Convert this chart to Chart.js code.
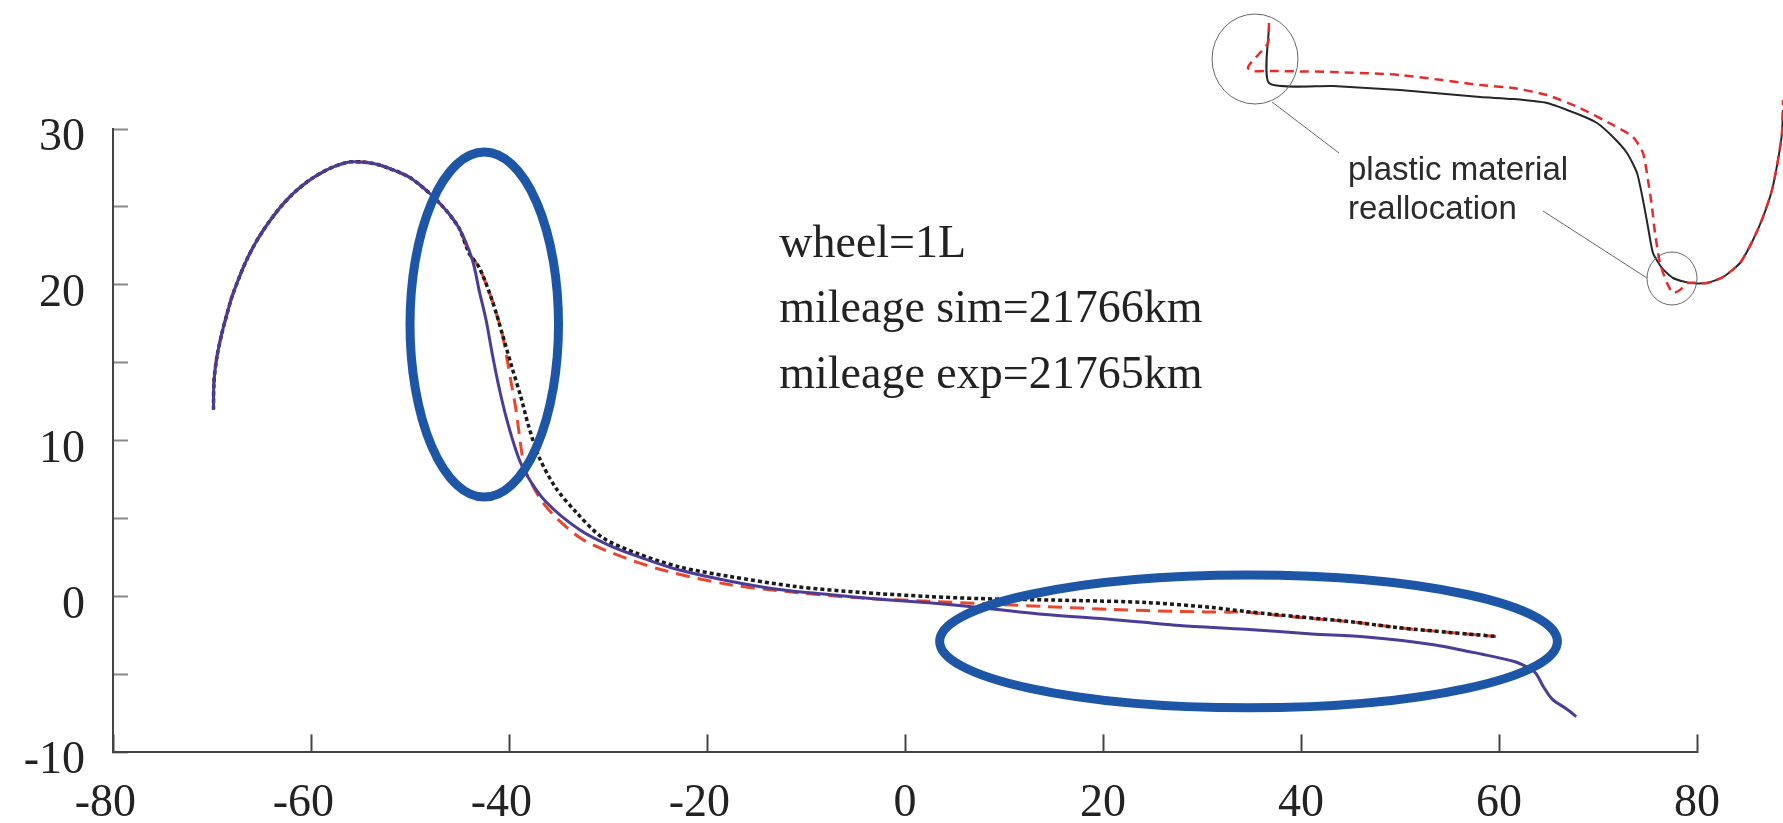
<!DOCTYPE html>
<html>
<head>
<meta charset="utf-8">
<title>wheel profile</title>
<script src="https://cdn.jsdelivr.net/npm/chart.js@4.4.1/dist/chart.umd.min.js"></script>
<style>
  html, body { margin: 0; padding: 0; background: #fff; overflow: hidden; }
  #wrap { position: relative; width: 1783px; height: 823px; }
  #main { position: absolute; left: 0; top: 0; }
  #inset { position: absolute; left: 1200px; top: 0; }
</style>
</head>
<body>
<div id="wrap">
  <canvas id="main" width="1783" height="823"></canvas>
  <canvas id="inset" width="583" height="330"></canvas>
</div>
<script>
// solid purple profile
const solidX = [-69.85,-69.8,-69.5,-69.0,-68.5,-68.0,-67.3,-66.5,-65.6,-64.5,-63.2,-61.9,-60.2,-58.5,-57.2,-55.9,-53.8,-51.8,-49.8,-47.1,-45.1,-43.7,-43.0,-42.3,-41.7,-41.0,-40.2,-39.2,-38.3,-36.3,-32.9,-29.6,-26.2,-22.8,-17.8,-12.7,-7.7,-2.6,2.4,7.5,14.2,20.9,27.7,34.4,41.1,46.6,53.2,58.3,61.7,63.3,63.8,64.5,65.4,66.8,67.8];
const solidY = [12.0,13.8,15.4,16.9,18.1,19.2,20.4,21.6,22.7,23.8,24.9,25.8,26.7,27.35,27.7,27.9,27.8,27.4,26.8,25.3,23.7,21.6,19.6,17.7,15.6,13.4,11.3,9.2,7.9,6.1,4.3,3.2,2.4,1.7,1.0,0.45,0.13,-0.17,-0.4,-0.7,-1.15,-1.47,-1.86,-2.1,-2.4,-2.6,-3.07,-3.7,-4.2,-4.7,-5.0,-5.8,-6.6,-7.2,-7.7];

// black dotted profile
const dotX = [-69.85,-69.8,-69.5,-69.0,-68.5,-68.0,-67.3,-66.5,-65.6,-64.5,-63.2,-61.9,-60.2,-58.5,-57.2,-55.9,-53.8,-51.8,-49.8,-47.1,-45.1,-44.0,-43.0,-41.7,-40.7,-39.7,-38.8,-38.0,-37.0,-35.3,-33.2,-30.6,-27.2,-22.8,-17.8,-11.0,-4.3,2.4,7.5,17.6,24.3,31.0,34.4,39.8,44.8,49.9,55.0,59.7];
const dotY = [12.0,13.8,15.4,16.9,18.1,19.2,20.4,21.6,22.7,23.8,24.9,25.8,26.7,27.35,27.7,27.9,27.8,27.4,26.8,25.3,23.7,22.0,21.1,19.0,16.9,14.7,12.8,10.9,9.0,7.0,5.4,3.8,2.8,1.9,1.3,0.64,0.26,0.0,-0.13,-0.26,-0.38,-0.7,-0.96,-1.3,-1.6,-2.0,-2.3,-2.56];

// red dashed profile
const dashX = [-69.85,-69.8,-69.5,-69.0,-68.5,-68.0,-67.3,-66.5,-65.6,-64.5,-63.2,-61.9,-60.2,-58.5,-57.2,-55.9,-53.8,-51.8,-49.8,-47.1,-45.1,-44.0,-43.0,-41.7,-40.7,-40.3,-39.8,-39.3,-38.7,-38.3,-36.3,-32.9,-29.6,-24.5,-17.8,-11.0,-4.3,2.4,7.5,14.2,20.9,27.7,32.7,34.4,39.8,44.8,49.9,55.0,59.7];
const dashY = [12.0,13.8,15.4,16.9,18.1,19.2,20.4,21.6,22.7,23.8,24.9,25.8,26.7,27.35,27.7,27.9,27.8,27.4,26.8,25.3,23.7,22.0,21.1,19.0,16.9,15.6,13.8,12.0,9.2,8.0,5.8,3.8,2.8,1.7,0.77,0.26,-0.1,-0.3,-0.45,-0.64,-0.83,-0.96,-1.0,-1.0,-1.34,-1.6,-2.0,-2.3,-2.56];

// inset sketch (x right, y down)
const insetSolidX = [6.9,6.9,13.3,20.0,28.0,31.3,34.7,38.0,39.7,41.3,42.7,43.7,44.3,44.8,45.3,46.2,47.3,49.0,50.7,52.3,54.0,55.3,56.3,57.2,57.8,58.2,58.3];
const insetSolidY = [2.5,8.3,8.6,9.0,9.7,9.9,10.3,11.5,12.3,13.7,15.3,17.3,20.0,22.7,25.3,26.8,27.8,28.3,28.3,27.7,26.3,24.0,21.7,19.0,16.0,13.3,11.0];
const insetDashX = [6.9,6.8,5.8,5.0,4.8,5.3,7.0,13.3,20.0,28.0,31.3,34.7,38.0,41.3,43.3,44.3,44.8,45.2,45.5,46.0,46.7,47.3,48.0,48.8,50.7,52.3,54.0,55.3,56.3,57.2,57.8,58.2,58.3];
const insetDashY = [2.3,4.3,5.5,6.4,6.8,7.1,7.1,7.2,7.5,8.5,8.8,9.5,10.8,12.5,13.7,15.3,18.0,20.7,23.3,26.3,28.3,29.3,29.0,28.3,28.3,27.7,26.3,24.0,21.7,19.0,16.0,13.3,10.0];

const noteLines = ['wheel=1L', 'mileage sim=21766km', 'mileage exp=21765km'];
const insetLabel = ['plastic material', 'reallocation'];

const toPoints = (xs, ys) => xs.map((x, i) => ({ x: x, y: ys[i] }));

const serif = "'Liberation Serif', 'Times New Roman', serif";
const sans = "'Liberation Sans', Arial, sans-serif";

// highlighted zones and note position, in data units
const zones = [
    { x: -42.5, y: 17.45, rx: 7.5, ry: 11.07 },
    { x: 34.7, y: -2.88, rx: 31.2, ry: 4.26 }
];
const note = { x: -12.7, y: 21.8, step: 4.2 };

function ellipseAt(ctx, xs, ys, e) {
    const cx = xs.getPixelForValue(e.x);
    const cy = ys.getPixelForValue(e.y);
    const rx = Math.abs(xs.getPixelForValue(e.x + e.rx) - cx);
    const ry = Math.abs(ys.getPixelForValue(e.y + e.ry) - cy);
    ctx.beginPath();
    ctx.ellipse(cx, cy, rx, ry, 0, 0, Math.PI * 2);
    ctx.stroke();
}

const marksPlugin = {
    id: 'marks',
    afterDatasetsDraw(chart) {
        const { ctx, scales: { x, y } } = chart;
        ctx.save();
        ctx.strokeStyle = '#1d56a6';
        ctx.lineWidth = 9;
        zones.forEach(z => ellipseAt(ctx, x, y, z));

        ctx.fillStyle = '#222';
        ctx.font = '46px ' + serif;
        ctx.textAlign = 'left';
        ctx.textBaseline = 'alphabetic';
        noteLines.forEach((t, i) => {
            ctx.fillText(t, x.getPixelForValue(note.x), y.getPixelForValue(note.y - i * note.step));
        });
        ctx.restore();
    }
};

const lineStyle = { pointRadius: 0, tension: 0.3 };

const mainChart = new Chart(document.getElementById('main'), {
    type: 'line',
    data: {
        datasets: [
            { data: toPoints(solidX, solidY), borderColor: '#4b3c97', borderWidth: 3, ...lineStyle },
            { data: toPoints(dotX, dotY), borderColor: '#1a1a1a', borderWidth: 3.5, borderDash: [4, 3], ...lineStyle },
            { data: toPoints(dashX, dashY), borderColor: '#e8472d', borderWidth: 3, borderDash: [14, 8], ...lineStyle }
        ]
    },
    options: {
        responsive: false,
        animation: false,
        devicePixelRatio: 1,
        layout: { padding: { top: 129, right: 86, left: 0, bottom: 0 } },
        plugins: { legend: { display: false }, tooltip: { enabled: false } },
        scales: {
            x: {
                type: 'linear',
                min: -80,
                max: 80,
                ticks: {
                    stepSize: 20,
                    color: '#222',
                    font: { family: serif, size: 46 },
                    padding: 42,
                    maxRotation: 0,
                    autoSkip: false,
                    // minus sign hangs left, digits stay centred on the tick
                    callback: v => (v < 0 ? v + '\u2004' : '' + v)
                },
                grid: { drawOnChartArea: false, drawTicks: true, tickLength: -18, tickWidth: 2, tickColor: '#444' },
                border: { display: true, color: '#444', width: 2 },
                afterFit: s => { s.height = 70; }
            },
            y: {
                type: 'linear',
                min: -10,
                max: 30,
                ticks: {
                    stepSize: 5,
                    color: '#222',
                    font: { family: serif, size: 46 },
                    padding: 43,
                    labelOffset: 9,
                    callback: v => (v % 10 === 0 ? v : '')
                },
                grid: { drawOnChartArea: false, drawTicks: true, tickLength: -15, tickWidth: 2, tickColor: '#888' },
                border: { display: true, color: '#444', width: 2 },
                afterFit: s => { s.width = 113; }
            }
        }
    },
    plugins: [marksPlugin]
});

// inset: circles, leader lines and label
const circles = [
    { x: 5.5, y: 5.9, rx: 4.3, ry: 4.5 },
    { x: 47.2, y: 27.85, rx: 2.5, ry: 2.65 }
];
const leaders = [
    { x1: 7.2, y1: 10.2, x2: 13.9, y2: 15.3 },
    { x1: 34.3, y1: 21.1, x2: 44.7, y2: 27.8 }
];
const labelPos = { x: 14.8, y: 18.0, step: 3.9 };

const calloutPlugin = {
    id: 'callout',
    afterDatasetsDraw(chart) {
        const { ctx, scales: { x, y } } = chart;
        ctx.save();
        ctx.strokeStyle = '#666';
        ctx.lineWidth = 1;
        circles.forEach(c => ellipseAt(ctx, x, y, c));
        leaders.forEach(l => {
            ctx.beginPath();
            ctx.moveTo(x.getPixelForValue(l.x1), y.getPixelForValue(l.y1));
            ctx.lineTo(x.getPixelForValue(l.x2), y.getPixelForValue(l.y2));
            ctx.stroke();
        });
        ctx.fillStyle = '#2b2b2b';
        ctx.font = '33px ' + sans;
        ctx.textBaseline = 'alphabetic';
        insetLabel.forEach((t, i) => {
            ctx.fillText(t, x.getPixelForValue(labelPos.x), y.getPixelForValue(labelPos.y + i * labelPos.step));
        });
        ctx.restore();
    }
};

const insetChart = new Chart(document.getElementById('inset'), {
    type: 'line',
    data: {
        datasets: [
            { data: toPoints(insetDashX, insetDashY), borderColor: '#e52b2b', borderWidth: 2.5, borderDash: [9, 6], pointRadius: 0, tension: 0.2 },
            { data: toPoints(insetSolidX, insetSolidY), borderColor: '#262626', borderWidth: 2, pointRadius: 0, tension: 0.2 }
        ]
    },
    options: {
        responsive: false,
        animation: false,
        devicePixelRatio: 1,
        layout: { padding: 0 },
        plugins: { legend: { display: false }, tooltip: { enabled: false } },
        scales: {
            x: { type: 'linear', min: 0, max: 58.3, display: false },
            y: { type: 'linear', min: 0, max: 33, reverse: true, display: false }
        }
    },
    plugins: [calloutPlugin]
});
</script>
</body>
</html>
